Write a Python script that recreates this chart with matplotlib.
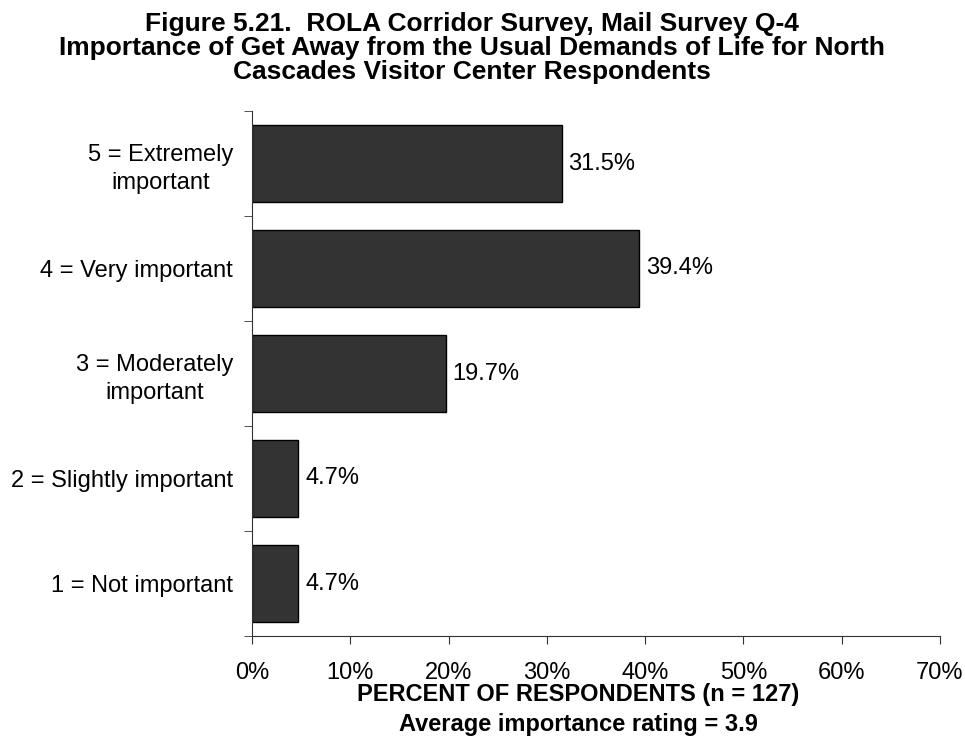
import matplotlib
matplotlib.use("Agg")
import matplotlib.pyplot as plt
from matplotlib.ticker import FixedLocator, NullFormatter

plt.rcParams['font.family'] = ['Liberation Sans', 'DejaVu Sans']

# data (top to bottom as shown)
categories = ["5 = Extremely\nimportant", "4 = Very important", "3 = Moderately\nimportant",
              "2 = Slightly important", "1 = Not important"]
percents = [31.5, 39.4, 19.7, 4.7, 4.7]
value_labels = ["31.5%", "39.4%", "19.7%", "4.7%", "4.7%"]
x_ticks = [0, 10, 20, 30, 40, 50, 60, 70]

title_lines = ["Figure 5.21.  ROLA Corridor Survey, Mail Survey Q-4",
               "Importance of Get Away from the Usual Demands of Life for North",
               "Cascades Visitor Center Respondents"]

fig = plt.figure(figsize=(9.65, 7.39), dpi=100)
ax = fig.add_axes([252/965, 1 - 636/739, 688/965, 525/739])

n = len(categories)
ypos = [n - 1 - i for i in range(n)]
ax.barh(ypos, percents, height=0.73, color="#333333", edgecolor="black", linewidth=1.0)

for y, v, lab in zip(ypos, percents, value_labels):
    ax.text(v + 0.7, y, lab, va="center", ha="left", fontsize=17)

ax.set_xlim(0, 70)
ax.set_ylim(-0.5, n - 0.5)
ax.set_xticks(x_ticks)
ax.set_xticklabels([f"{t}%" for t in x_ticks], fontsize=17)
ax.set_yticks(ypos)
ax.set_yticklabels(categories, fontsize=17, ha="right", multialignment="center",
                   linespacing=1.35)
ax.tick_params(axis="y", length=0, pad=13.7)
ax.yaxis.set_minor_locator(FixedLocator([i - 0.5 for i in range(n + 1)]))
ax.yaxis.set_minor_formatter(NullFormatter())
ax.tick_params(axis="y", which="minor", length=5.5, direction="out", color="#333333")
ax.tick_params(axis="x", length=5.5, direction="out", pad=13, color="#333333")

for side in ["top", "right"]:
    ax.spines[side].set_visible(False)
ax.spines["left"].set_color("#333333")
ax.spines["bottom"].set_color("#333333")

for i, line in enumerate(title_lines):
    fig.text(472/965, 1 - (31 + 24 * i)/739, line, ha="center", va="baseline",
             fontsize=19, fontweight="bold")

fig.text(578/965, 1 - 695/739, "PERCENT OF RESPONDENTS (n = 127)",
         ha="center", va="center", fontsize=17, fontweight="bold")
fig.text(578/965, 1 - 725/739, "Average importance rating = 3.9",
         ha="center", va="center", fontsize=17, fontweight="bold")

fig.savefig("out.png", dpi=100)
